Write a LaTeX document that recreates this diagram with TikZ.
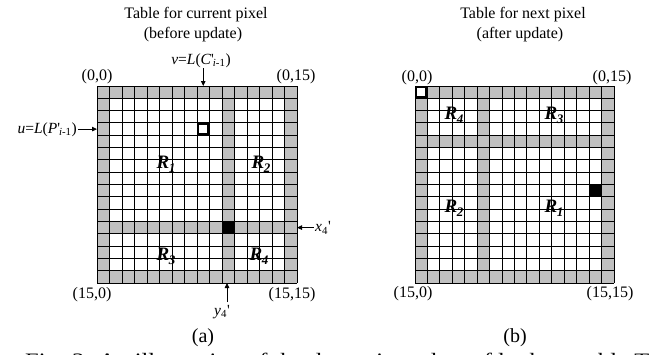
\documentclass[tikz,border=0pt]{standalone}
\usepackage{fontspec}
\setmainfont{Liberation Serif}
\usepackage{graphicx}
\usetikzlibrary{arrows.meta}
\definecolor{cellgray}{RGB}{192,192,192}
\tikzset{
  gridline/.style={line width=0.9pt, draw=black},
  hotcell/.style={fill=black},
  markcell/.style={draw=black, fill=white, line width=2.4pt},
  arr/.style={line width=0.8pt, -{Triangle[length=5pt,width=4.5pt]}},
  corner/.style={inner sep=0pt, font=\fontsize{16}{18}\selectfont},
  titletext/.style={inner sep=0pt, anchor=base, font=\fontsize{16}{18}\selectfont},
  symlabel/.style={inner sep=0pt, font=\fontsize{15.5}{17}\selectfont},
  region/.style={inner sep=0pt, font=\fontsize{19}{21}\selectfont\bfseries\itshape},
  sublabel/.style={inner sep=0pt, font=\fontsize{20}{22}\selectfont},
  captext/.style={inner sep=0pt, anchor=base west, font=\fontsize{19}{21}\selectfont},
}
\newcommand{\Rg}[1]{R\kern-0.5pt\raisebox{-0.22em}{\fontsize{13}{13}\selectfont #1}}
\newcommand{\gridlines}{%
  \foreach \i in {0,...,16} {
    \draw[gridline] (\i,0) -- (\i,16);
    \draw[gridline] (0,\i) -- (16,\i);
  }}
\begin{document}
\begin{tikzpicture}[x=1pt,y=-1pt]
\useasboundingbox (0,0) rectangle (656,354);
\fill[white] (0,0) rectangle (656,354);
\clip (0,0) rectangle (656,354);

% ---------- Table (a) ----------
\begin{scope}[xshift=97pt,yshift=-86pt,x=12.5pt,y=-12.3125pt]
  \fill[cellgray] (0,0) rectangle (16,1) (0,15) rectangle (16,16)
    (0,0) rectangle (1,16) (15,0) rectangle (16,16)
    (0,11) rectangle (16,12) (10,0) rectangle (11,16);
  \fill[hotcell] (10,11) rectangle (11,12);
  \gridlines
  \draw[markcell] (8.1,3.1) rectangle (8.9,3.9);
  \coordinate (vt) at (8.5,0);
  \coordinate (ut) at (0,3.5);
  \coordinate (xt) at (16,11.5);
  \coordinate (yt) at (10.4,16);
\end{scope}

\node[titletext] (ta1) at (196,18) {Table for current pixel};
\node[titletext] (ta2) at (193,38) {(before update)};
\node[corner] (a00) at (97,77) {(0,0)};
\node[corner] (a015) at (296,77) {(0,15)};
\node[corner] (a150) at (92,295) {(15,0)};
\node[corner] (a1515) at (292,295) {(15,15)};

\node[symlabel, anchor=south] (v) at (201,68) {\textit{ν}=\textit{L}(\textit{C}\textquotesingle\kern-1pt\textsubscript{\textit{i}-1})};
\draw[arr] (v.south -| vt) -- (vt);
\node[symlabel, anchor=east] (u) at (77,130) {\textit{u}=\textit{L}(\textit{P}\textquotesingle\kern-1pt\textsubscript{\textit{i}-1})};
\draw[arr, shorten <=1pt] (u.east |- ut) -- (ut);
\node[symlabel, anchor=west] (x4) at (315,228) {\textit{x}\textsubscript{4}\textquotesingle};
\draw[arr, shorten <=1.5pt] (x4.west |- xt) -- (xt);
\node[symlabel] (y4) at (222,312) {\textit{y}\textsubscript{4}\textquotesingle};
\draw[arr, shorten <=3pt] (y4.north -| yt) -- (yt);

\node[region] (ra1) at (166,164) {\Rg{1}};
\node[region] (ra2) at (261,164) {\Rg{2}};
\node[region] (ra3) at (166,256) {\Rg{3}};
\node[region] (ra4) at (259,256) {\Rg{4}};

\node[sublabel] (la) at (203,338) {(a)};

% ---------- Table (b) ----------
\begin{scope}[xshift=415pt,yshift=-86pt,x=12.4375pt,y=-12.3125pt]
  \fill[cellgray] (0,0) rectangle (16,1) (0,15) rectangle (16,16)
    (0,0) rectangle (1,16) (15,0) rectangle (16,16)
    (0,4) rectangle (16,5) (5,0) rectangle (6,16);
  \fill[hotcell] (14,8) rectangle (15,9);
  \gridlines
  \draw[markcell] (0.1,0.1) rectangle (0.9,0.9);
\end{scope}

\node[titletext] (tb1) at (523,18) {Table for next pixel};
\node[titletext] (tb2) at (520,38) {(after update)};
\node[corner] (b00) at (417,78) {(0,0)};
\node[corner] (b015) at (612,78) {(0,15)};
\node[corner] (b150) at (413,294) {(15,0)};
\node[corner] (b1515) at (610,294) {(15,15)};

\node[region] (rb4) at (454,115) {\Rg{4}};
\node[region] (rb3) at (554,115) {\Rg{3}};
\node[region] (rb2) at (454,208) {\Rg{2}};
\node[region] (rb1) at (554,208) {\Rg{1}};

\node[sublabel] (lb) at (515,338) {(b)};

% ---------- cut-off caption ----------
\node[captext] (cap) at (25,366) {\resizebox{624pt}{\height}{Fig. 3. An illustration of the dynamic update of look-up table T}};
\end{tikzpicture}
\end{document}
